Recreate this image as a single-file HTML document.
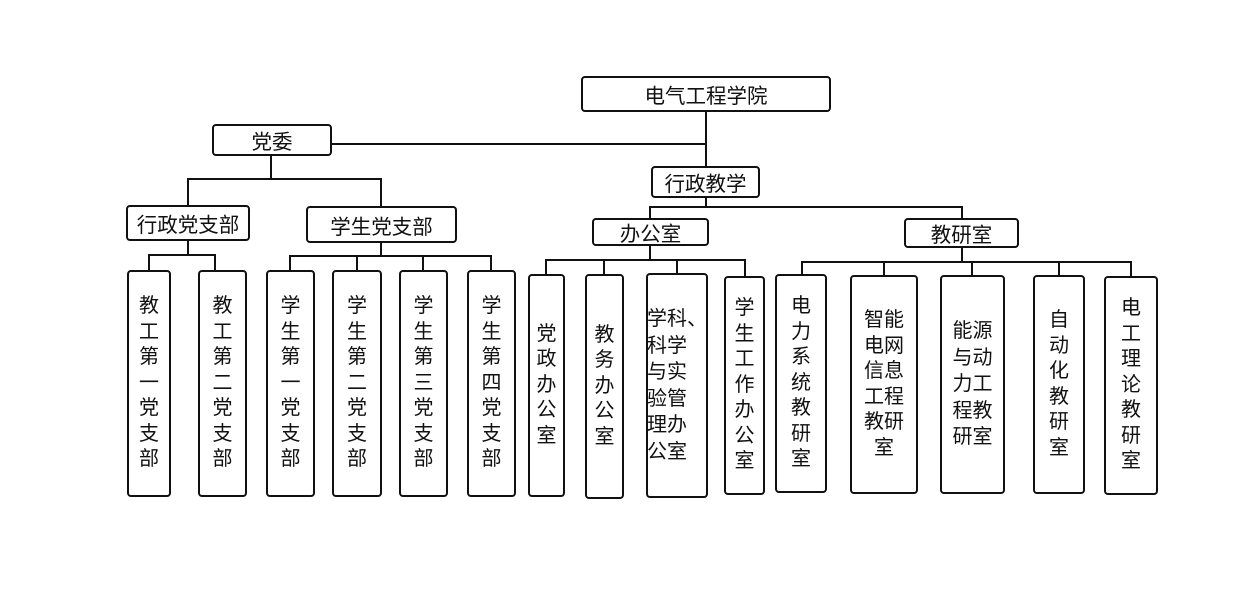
<!DOCTYPE html>
<html><head><meta charset="utf-8"><style>
body{margin:0;width:1238px;height:593px;background:#fff;position:relative;overflow:hidden;font-family:"Liberation Sans","Noto Sans CJK SC",sans-serif;color:#111}
.b{position:absolute;box-sizing:border-box;border:2px solid #111;border-radius:4px;background:#fff;display:flex;align-items:center;justify-content:center;text-align:center;font-size:20.5px}
.v{line-height:25.5px;font-size:20px}
.l{position:absolute;background:#111}
</style></head><body>
<div class="l" style="left:705px;top:111px;width:2px;height:56px"></div>
<div class="l" style="left:331px;top:143px;width:376px;height:2px"></div>
<div class="l" style="left:270px;top:155px;width:2px;height:25px"></div>
<div class="l" style="left:187px;top:178px;width:195px;height:2px"></div>
<div class="l" style="left:187px;top:178px;width:2px;height:28px"></div>
<div class="l" style="left:380px;top:178px;width:2px;height:29px"></div>
<div class="l" style="left:187px;top:240px;width:2px;height:16px"></div>
<div class="l" style="left:148px;top:254px;width:68px;height:2px"></div>
<div class="l" style="left:148px;top:254px;width:2px;height:17px"></div>
<div class="l" style="left:214px;top:254px;width:2px;height:17px"></div>
<div class="l" style="left:380px;top:242px;width:2px;height:14px"></div>
<div class="l" style="left:289px;top:255px;width:203px;height:2px"></div>
<div class="l" style="left:289px;top:255px;width:2px;height:16px"></div>
<div class="l" style="left:356px;top:255px;width:2px;height:16px"></div>
<div class="l" style="left:422px;top:255px;width:2px;height:16px"></div>
<div class="l" style="left:490px;top:255px;width:2px;height:16px"></div>
<div class="l" style="left:705px;top:197px;width:2px;height:11px"></div>
<div class="l" style="left:649px;top:206px;width:314px;height:2px"></div>
<div class="l" style="left:649px;top:206px;width:2px;height:13px"></div>
<div class="l" style="left:961px;top:206px;width:2px;height:13px"></div>
<div class="l" style="left:649px;top:245px;width:2px;height:15px"></div>
<div class="l" style="left:545px;top:259px;width:201px;height:2px"></div>
<div class="l" style="left:545px;top:259px;width:2px;height:16px"></div>
<div class="l" style="left:603px;top:259px;width:2px;height:16px"></div>
<div class="l" style="left:676px;top:259px;width:2px;height:15px"></div>
<div class="l" style="left:744px;top:259px;width:2px;height:18px"></div>
<div class="l" style="left:961px;top:247px;width:2px;height:15px"></div>
<div class="l" style="left:801px;top:261px;width:331px;height:2px"></div>
<div class="l" style="left:801px;top:261px;width:2px;height:14px"></div>
<div class="l" style="left:883px;top:261px;width:2px;height:15px"></div>
<div class="l" style="left:971px;top:261px;width:2px;height:15px"></div>
<div class="l" style="left:1058px;top:261px;width:2px;height:15px"></div>
<div class="l" style="left:1130px;top:261px;width:2px;height:16px"></div>

<div class="b" style="left:581px;top:76px;width:250px;height:36px">电气工程学院</div>
<div class="b" style="left:212px;top:124px;width:120px;height:32px">党委</div>
<div class="b" style="left:651px;top:166px;width:109px;height:32px">行政教学</div>
<div class="b" style="left:126px;top:205px;width:124px;height:36px">行政党支部</div>
<div class="b" style="left:306px;top:206px;width:151px;height:37px">学生党支部</div>
<div class="b" style="left:592px;top:218px;width:117px;height:28px">办公室</div>
<div class="b" style="left:904px;top:218px;width:115px;height:30px">教研室</div>

<div class="b v" style="left:127px;top:270px;width:44px;height:227px">教<br>工<br>第<br>一<br>党<br>支<br>部</div>
<div class="b v" style="left:198px;top:270px;width:49px;height:227px">教<br>工<br>第<br>二<br>党<br>支<br>部</div>
<div class="b v" style="left:266px;top:270px;width:49px;height:227px">学<br>生<br>第<br>一<br>党<br>支<br>部</div>
<div class="b v" style="left:332px;top:270px;width:50px;height:227px">学<br>生<br>第<br>二<br>党<br>支<br>部</div>
<div class="b v" style="left:399px;top:270px;width:49px;height:227px">学<br>生<br>第<br>三<br>党<br>支<br>部</div>
<div class="b v" style="left:467px;top:270px;width:49px;height:227px">学<br>生<br>第<br>四<br>党<br>支<br>部</div>
<div class="b v" style="left:528px;top:274px;width:37px;height:223px">党<br>政<br>办<br>公<br>室</div>
<div class="b v" style="left:585px;top:274px;width:39px;height:225px">教<br>务<br>办<br>公<br>室</div>
<div class="b v" style="left:646px;top:273px;width:62px;height:225px;justify-content:flex-start;text-align:left;line-height:26.5px"><div style="margin-left:-1px;white-space:nowrap">学科、<br>科学<br>与实<br>验管<br>理办<br>公室</div></div>
<div class="b v" style="left:724px;top:276px;width:41px;height:219px">学<br>生<br>工<br>作<br>办<br>公<br>室</div>
<div class="b v" style="left:775px;top:274px;width:52px;height:219px">电<br>力<br>系<br>统<br>教<br>研<br>室</div>
<div class="b v" style="left:850px;top:275px;width:68px;height:219px">智能<br>电网<br>信息<br>工程<br>教研<br>室</div>
<div class="b v" style="left:940px;top:275px;width:65px;height:219px;line-height:26.5px">能源<br>与动<br>力工<br>程教<br>研室</div>
<div class="b v" style="left:1033px;top:275px;width:52px;height:219px">自<br>动<br>化<br>教<br>研<br>室</div>
<div class="b v" style="left:1104px;top:276px;width:54px;height:219px">电<br>工<br>理<br>论<br>教<br>研<br>室</div>
</body></html>
